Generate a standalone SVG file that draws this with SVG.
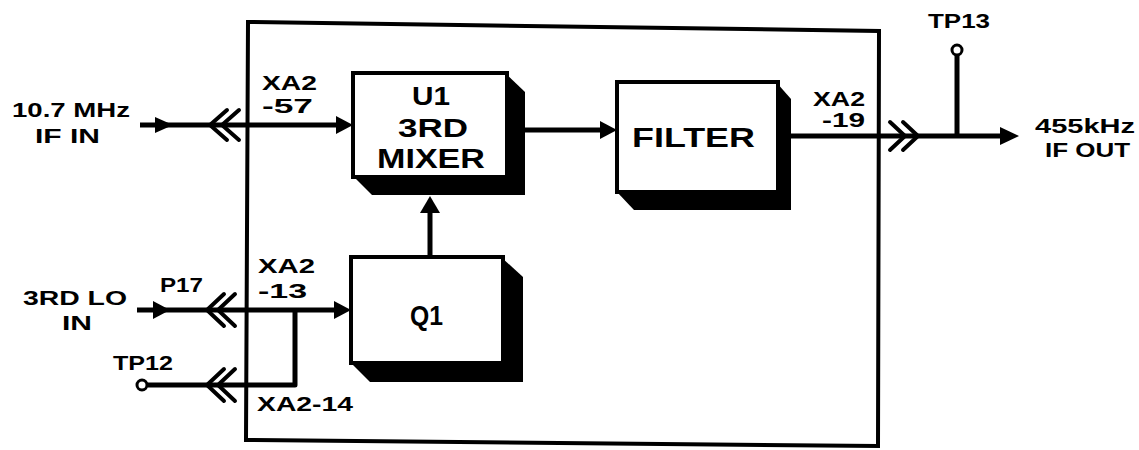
<svg xmlns="http://www.w3.org/2000/svg" width="1139" height="450" viewBox="0 0 1139 450">
<style>
.ln{stroke:#000;stroke-width:5;fill:none;stroke-linejoin:round}
.ch{stroke:#000;stroke-width:4;fill:none;stroke-linecap:round;stroke-linejoin:miter}
.frame{stroke:#000;stroke-width:4;fill:none}
.box{fill:#fff;stroke:#000;stroke-width:4}
.sh{fill:#000}
.ah{fill:#000}
.tp{fill:#fff;stroke:#000;stroke-width:3}
.t{font-family:"Liberation Sans",Arial,sans-serif;font-weight:bold;fill:#000;font-size:21px}
</style>
<rect width="1139" height="450" fill="#fff"/>
<path class="frame" d="M248,22 L879,31 L878,446 L246,440 Z"/>

<g id="connectors">
  <path class="ln" d="M140,125 L340,125"/>
  <polygon class="ah" points="155,117 173,125 155,133"/>
  <path class="ch" d="M227,110 L210,125 L227,140 M239,110 L222,125 L239,140"/>
  <polygon class="ah" points="336,116 353,125 336,134"/>
  <path class="ln" d="M525,130 L603,130"/>
  <polygon class="ah" points="600,121 617,130 600,139"/>
  <path class="ln" d="M430,257 L430,210"/>
  <polygon class="ah" points="420,213 430,196 440,213"/>
  <path class="ln" d="M137,310 L337,310"/>
  <polygon class="ah" points="153,301 170,310 153,319"/>
  <path class="ch" d="M224,294 L207,310 L224,326 M235,294 L218,310 L235,326"/>
  <polygon class="ah" points="334,301 351,310 334,319"/>
  <path class="ln" d="M295,310 L295,385 L148,385"/>
  <path class="ch" d="M224,369 L207,385 L224,401 M235,369 L218,385 L235,401"/>
  <circle class="tp" cx="142" cy="385" r="5"/>
  <path class="ln" d="M791,136 L1003,136"/>
  <path class="ch" d="M890,122 L905,136 L890,150 M903,122 L918,136 L903,150"/>
  <polygon class="ah" points="1000,127 1019,136 1000,145"/>
  <path class="ln" d="M957,136 L957,56"/>
  <circle class="tp" cx="957" cy="50" r="5"/>
</g>

<g id="mixer">
  <polygon class="sh" points="505,73 525,92 525,195 372,195 353,176"/>
  <rect class="box" x="353" y="73" width="154" height="104"/>
  <text class="t" x="412" y="105" style="font-size:25px" textLength="38" lengthAdjust="spacingAndGlyphs">U1</text>
  <text class="t" x="398" y="137" style="font-size:26px" textLength="70" lengthAdjust="spacingAndGlyphs">3RD</text>
  <text class="t" x="377" y="168" style="font-size:27px" textLength="108" lengthAdjust="spacingAndGlyphs">MIXER</text>
</g>

<g id="filter">
  <polygon class="sh" points="776,82 791,99 791,210 634,210 617,192"/>
  <rect class="box" x="617" y="82" width="161" height="110"/>
  <text class="t" x="632" y="147" style="font-size:28px" textLength="123" lengthAdjust="spacingAndGlyphs">FILTER</text>
</g>

<g id="q1">
  <polygon class="sh" points="501,257 523,277 523,382 370,382 351,363"/>
  <rect class="box" x="351" y="257" width="152" height="106"/>
  <text class="t" x="410" y="325" style="font-size:28px" textLength="33" lengthAdjust="spacingAndGlyphs">Q1</text>
</g>

<g id="labels">
  <text class="t" x="12" y="117" textLength="118" lengthAdjust="spacingAndGlyphs">10.7 MHz</text>
  <text class="t" x="35" y="143" textLength="65" lengthAdjust="spacingAndGlyphs">IF IN</text>
  <text class="t" x="262" y="90" textLength="55" lengthAdjust="spacingAndGlyphs">XA2</text>
  <text class="t" x="262" y="113" textLength="51" lengthAdjust="spacingAndGlyphs">-57</text>
  <text class="t" x="813" y="106" textLength="52" lengthAdjust="spacingAndGlyphs">XA2</text>
  <text class="t" x="822" y="127" textLength="43" lengthAdjust="spacingAndGlyphs">-19</text>
  <text class="t" x="928" y="28" textLength="62" lengthAdjust="spacingAndGlyphs">TP13</text>
  <text class="t" x="1035" y="133" textLength="100" lengthAdjust="spacingAndGlyphs">455kHz</text>
  <text class="t" x="1045" y="157" textLength="85" lengthAdjust="spacingAndGlyphs">IF OUT</text>
  <text class="t" x="23" y="305" textLength="104" lengthAdjust="spacingAndGlyphs">3RD LO</text>
  <text class="t" x="62" y="330" textLength="30" lengthAdjust="spacingAndGlyphs">IN</text>
  <text class="t" x="160" y="292" textLength="43" lengthAdjust="spacingAndGlyphs">P17</text>
  <text class="t" x="258" y="273" textLength="57" lengthAdjust="spacingAndGlyphs">XA2</text>
  <text class="t" x="258" y="298" textLength="49" lengthAdjust="spacingAndGlyphs">-13</text>
  <text class="t" x="113" y="370" textLength="60" lengthAdjust="spacingAndGlyphs">TP12</text>
  <text class="t" x="257" y="411" textLength="96" lengthAdjust="spacingAndGlyphs">XA2-14</text>
</g>
</svg>
